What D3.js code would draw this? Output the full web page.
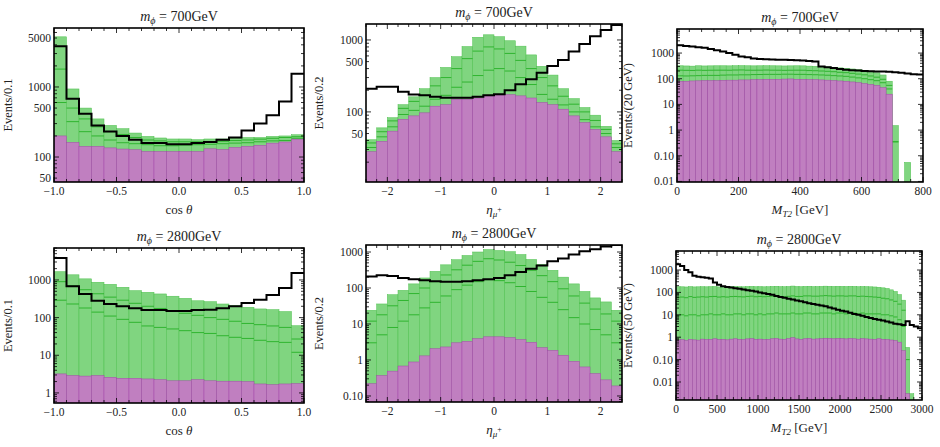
<!DOCTYPE html>
<html><head><meta charset="utf-8">
<script src="https://cdn.jsdelivr.net/npm/d3@7"></script>
<style>
body{margin:0;background:#fff;}
text{font-family:"Liberation Serif","DejaVu Serif",serif;fill:#222;}
</style></head>
<body><svg id="chart" width="940" height="447"></svg>
<script>
// ---- data ----
// cos theta, m = 700 GeV, 20 bins of 0.1
var cos700Purple = [200,162,142,142,135,130,127,120,120,120,120,120,131,128,137,142,147,158,164,180];
var cos700Low    = [600,320,230,200,175,160,155,150,145,145,148,150,152,155,158,160,165,170,172,185];
var cos700High   = [1800,500,350,270,230,210,190,175,170,165,165,165,165,168,172,175,180,185,190,195];
var cos700Total  = [5200,937,500,350,283,254,220,197,187,181,181,177,181,181,187,190,190,197,200,208];
var cos700Black  = [3800,680,415,283,232,200,177,158,158,152,152,158,164,177,190,240,300,394,620,1550];

// eta mu+, m = 700 GeV, 24 bins of 0.2
var eta700Purple = [28,39,54,79,88,97,120,126,150,150,156,167,172,174,167,156,135,126,109,88,71,57,45,28];
var eta700Low    = [32,45,62,92,105,120,150,170,220,260,320,380,400,370,300,240,175,150,125,100,78,62,50,32];
var eta700High   = [37,53,75,112,140,170,230,300,400,550,700,800,750,650,520,400,300,230,165,128,100,76,57,36];
var eta700Total  = [41,60,83,126,162,210,300,415,585,810,1090,1180,1110,975,820,620,430,325,210,153,115,90,63,40];
var eta700Black  = [210,223,223,190,175,170,162,157,157,157,162,170,176,200,243,285,350,435,525,690,880,1130,1380,1620];

// MT2, m = 700 GeV, 40 bins of 20 GeV
var mt700Purple = [80,80,82,83,85,85,85,87,88,88,90,90,92,93,95,95,95,97,98,95,95,93,92,90,88,85,82,80,75,70,65,60,55,45,25,0,0,0,0,0];
var mt700Low    = [130,128,130,132,135,135,135,138,140,140,142,142,145,146,148,148,148,150,150,148,148,145,143,140,137,132,128,124,116,108,100,92,84,70,40,0.35,0,0,0,0];
var mt700High   = [215,212,210,215,212,214,215,215,214,218,220,215,214,215,218,215,214,212,214,215,214,208,205,200,195,188,178,172,162,152,142,128,115,95,55,0.35,0,0,0,0];
var mt700Total  = [320,315,310,320,315,318,320,320,318,322,325,320,318,320,322,320,318,315,318,320,318,310,305,300,290,280,265,255,240,225,210,190,170,140,80,1.5,0,0.055,0,0];
var mt700Black  = [2000,1900,1800,1700,1600,1450,1300,1150,1000,850,740,680,620,590,570,560,550,550,540,530,510,490,470,300,280,260,240,225,215,210,200,195,190,190,185,180,170,160,150,145];

// cos theta, m = 2800 GeV
var cos2800Purple = [3.2,2.9,2.8,2.9,2.6,2.45,2.45,2.35,2.25,2.1,2.1,2.25,2.1,2.05,2.05,2.0,1.73,1.66,1.73,1.77];
var cos2800Low    = [290,230,180,140,110,90,75,60,55,50,45,40,38,33,30,28,25,23,22,12];
var cos2800High   = [900,700,550,430,350,290,240,200,175,150,130,115,100,90,80,70,65,60,55,27];
var cos2800Total  = [1660,1370,1070,870,765,640,520,470,425,370,325,280,265,230,208,188,170,163,145,61];
var cos2800Black  = [3850,680,425,280,230,200,177,160,160,150,150,160,163,177,200,245,300,400,610,1530];

// eta mu+, m = 2800 GeV
var eta2800Purple = [0.22,0.37,0.49,0.68,0.88,1.3,2.06,2.3,3.0,3.3,3.9,4.4,4.4,4.2,3.7,3.1,2.2,1.85,1.35,0.92,0.64,0.42,0.28,0.19];
var eta2800Low    = [3,5,8,12,18,28,40,60,90,120,150,170,160,140,110,80,55,40,25,15,10,7,5,3];
var eta2800High   = [12,18,32,45,70,100,150,230,320,430,550,650,600,520,420,310,220,150,95,60,38,26,19,12];
var eta2800Total  = [24,36,65,86,130,190,290,440,610,800,1000,1170,1100,1020,850,620,450,310,200,130,80,53,41,24];
var eta2800Black  = [210,225,215,190,175,165,155,148,148,155,165,175,190,225,280,340,420,550,660,850,1050,1200,1430,1570];

// MT2, m = 2800 GeV, 60 bins of 50 GeV
var mt2800Purple = [0.75,0.78,0.72,0.8,0.76,0.74,0.82,0.78,0.8,0.85,0.78,0.8,0.76,0.82,0.85,0.8,0.78,0.84,0.86,0.8,
                    0.82,0.78,0.8,0.85,0.88,0.82,0.8,0.86,0.95,0.84,0.8,0.85,0.88,0.82,0.84,0.86,0.9,0.88,0.85,0.88,
                    0.86,0.84,0.88,0.85,0.82,0.86,0.84,0.82,0.8,0.85,0.8,0.78,0.75,0.7,0.6,0.25,0.003,0,0,0];
var mt2800Low    = [9,10,9,10,10,9,10,10,11,10,10,11,10,10,11,11,10,11,11,10,11,10,11,11,12,11,11,11,12,11,11,12,12,11,11,12,12,12,11,12,
                    12,11,12,12,11,12,11,11,11,11,10,10,9,8,6,3,0,0,0,0];
var mt2800High   = [60,62,58,65,60,62,64,62,65,66,62,64,62,65,66,64,63,66,68,64,66,64,66,68,70,66,65,67,70,66,66,70,70,68,68,70,72,70,68,70,
                    70,68,70,70,66,68,66,64,62,60,55,52,46,40,30,16,0.1,0,0,0];
var mt2800Total  = [180,178,175,182,176,178,180,178,182,185,176,180,178,182,185,180,178,184,186,180,182,178,180,185,188,182,180,184,192,184,
                    180,185,188,182,184,186,190,188,185,188,186,184,188,185,180,184,182,178,175,170,160,150,130,110,80,45,0.35,0.003,0,0];
var mt2800Black  = [1800,1500,1000,800,550,500,470,450,420,280,220,190,175,165,155,145,135,125,118,110,100,92,85,78,70,62,57,52,48,43,
                    40,36,33,30,28,26,24,21,19,17,15,14,12.5,11,10,9,8,7.2,6.5,6,5.5,5,4.5,4,3.8,3.5,5.2,3.5,3.0,2.5];

var cosTicks = [-1.0,-0.5,0.0,0.5,1.0];
var etaTicks = [-2,-1,0,1,2];
var mt700Ticks = [0,200,400,600,800];
var mt2800Ticks = [0,500,1000,1500,2000,2500,3000];

// ---- layout ----
var panels = [
  {title:"700", x0:54, x1:304, y0:28, y1:182, xd:[-1,1], yd:[44,6950], w:0.1, start:-1,
   purple:cos700Purple, layers:[cos700Low,cos700High], total:cos700Total, black:cos700Black,
   xt:cosTicks, xf:d3.format(".1f"), yt:[50,100,500,1000,5000], xlab:"cosθ", ylab:"Events/0.1", lx:12},
  {title:"700", x0:366, x1:622, y0:24, y1:182, xd:[-2.4,2.4], yd:[10.6,1667], w:0.2, start:-2.4,
   purple:eta700Purple, layers:[eta700Low,eta700High], total:eta700Total, black:eta700Black,
   xt:etaTicks, xf:d3.format("d"), yt:[50,100,500,1000], xlab:"eta", ylab:"Events/0.2", lx:323},
  {title:"700", x0:677, x1:923, y0:29, y1:182, xd:[0,800], yd:[0.0095,8650], w:20, start:0,
   purple:mt700Purple, layers:[mt700Low,mt700High], total:mt700Total, black:mt700Black,
   xt:mt700Ticks, xf:d3.format("d"), yt:[0.01,0.1,1,10,100,1000], xlab:"mt2", ylab:"Events/(20 GeV)", lx:632},
  {title:"2800", x0:54, x1:304, y0:248, y1:403, xd:[-1,1], yd:[0.54,7060], w:0.1, start:-1,
   purple:cos2800Purple, layers:[cos2800Low,cos2800High], total:cos2800Total, black:cos2800Black,
   xt:cosTicks, xf:d3.format(".1f"), yt:[1,10,100,1000], xlab:"cosθ", ylab:"Events/0.1", lx:12},
  {title:"2800", x0:366, x1:622, y0:245, y1:402, xd:[-2.4,2.4], yd:[0.068,1565], w:0.2, start:-2.4,
   purple:eta2800Purple, layers:[eta2800Low,eta2800High], total:eta2800Total, black:eta2800Black,
   xt:etaTicks, xf:d3.format("d"), yt:[0.1,1,10,100,1000], xlab:"eta", ylab:"Events/0.2", lx:323},
  {title:"2800", x0:676, x1:922, y0:251, y1:400, xd:[0,3000], yd:[0.00157,7060], w:50, start:0,
   purple:mt2800Purple, layers:[mt2800Low,mt2800High], total:mt2800Total, black:mt2800Black,
   xt:mt2800Ticks, xf:d3.format("d"), yt:[0.01,0.1,1,10,100,1000], xlab:"mt2", ylab:"Events/(50 GeV)", lx:632}
];

var svg = d3.select("#chart");
var yFmt = function (v) { return v === 0.1 ? "0.10" : v < 1 ? String(v) : d3.format("d")(v); };

panels.forEach(function (p, pi) {
  var x = d3.scaleLinear().domain(p.xd).range([p.x0, p.x1]);
  var y = d3.scaleLog().domain(p.yd).range([p.y1, p.y0]).clamp(true);
  var id = "clip" + pi;
  svg.append("clipPath").attr("id", id).append("rect")
     .attr("x", p.x0).attr("y", p.y0).attr("width", p.x1 - p.x0).attr("height", p.y1 - p.y0);
  var g = svg.append("g").attr("clip-path", "url(#" + id + ")");
  var bins = p.total.map(function (v, i) { return i; });
  var bx = function (i) { return x(p.start + i * p.w); };
  var bw = function (i) { return bx(i + 1) - bx(i); };

  // green stack
  g.selectAll(".g").data(bins.filter(function (i) { return p.total[i] > 0; })).enter().append("rect")
    .attr("x", bx).attr("width", bw)
    .attr("y", function (i) { return y(p.total[i]); })
    .attr("height", function (i) { return p.y1 - y(p.total[i]); })
    .attr("fill", "#80d580").attr("stroke", "#4cc04c").attr("stroke-width", 0.5);
  // layer lines inside the green
  p.layers.forEach(function (arr) {
    g.selectAll(null).data(bins.filter(function (i) { return arr[i] > 0; })).enter().append("line")
      .attr("x1", bx).attr("x2", function (i) { return bx(i) + bw(i); })
      .attr("y1", function (i) { return y(arr[i]); }).attr("y2", function (i) { return y(arr[i]); })
      .attr("stroke", "#2fb52f").attr("stroke-width", 1);
  });
  // purple
  g.selectAll(".p").data(bins.filter(function (i) { return p.purple[i] > 0; })).enter().append("rect")
    .attr("x", bx).attr("width", bw)
    .attr("y", function (i) { return y(p.purple[i]); })
    .attr("height", function (i) { return p.y1 - y(p.purple[i]); })
    .attr("fill", "#c07fc0").attr("stroke", "#a448aa").attr("stroke-width", 0.5);
  // black step line
  var pts = [];
  p.black.forEach(function (v, i) { pts.push([bx(i), y(v)], [bx(i + 1), y(v)]); });
  g.append("path").attr("d", d3.line()(pts)).attr("fill", "none")
    .attr("stroke", "#000").attr("stroke-width", 2);

  // frame and ticks
  var minorX = d3.range(p.xd[0], p.xd[1] + 1e-9, (p.xt[1] - p.xt[0]) / 5);
  var minorY = [];
  d3.range(-3, 5).forEach(function (e) {
    for (var k = 1; k < 10; k++) { var v = k * Math.pow(10, e); if (v >= p.yd[0] && v <= p.yd[1]) minorY.push(v); }
  });
  var tk = svg.append("g").attr("stroke", "#000").attr("stroke-width", 0.8);
  minorX.forEach(function (v) {
    var major = p.xt.some(function (t) { return Math.abs(t - v) < 1e-6; });
    var L = major ? 5 : 3;
    tk.append("line").attr("x1", x(v)).attr("x2", x(v)).attr("y1", p.y1).attr("y2", p.y1 - L);
    tk.append("line").attr("x1", x(v)).attr("x2", x(v)).attr("y1", p.y0).attr("y2", p.y0 + L);
  });
  minorY.forEach(function (v) {
    var L = Math.abs(Math.log10(v) - Math.round(Math.log10(v))) < 1e-6 ? 5 : 3;
    tk.append("line").attr("x1", p.x0).attr("x2", p.x0 + L).attr("y1", y(v)).attr("y2", y(v));
    tk.append("line").attr("x1", p.x1).attr("x2", p.x1 - L).attr("y1", y(v)).attr("y2", y(v));
  });
  svg.append("rect").attr("x", p.x0).attr("y", p.y0).attr("width", p.x1 - p.x0).attr("height", p.y1 - p.y0)
    .attr("fill", "none").attr("stroke", "#000").attr("stroke-width", 1.6);

  svg.append("g").selectAll("text").data(p.xt).enter().append("text")
    .attr("x", function (d) { return x(d); }).attr("y", p.y1 + 13).attr("text-anchor", "middle")
    .attr("font-size", 11.5).text(function (d) { return d < 0 ? "\u2212" + p.xf(-d) : p.xf(d); });
  svg.append("g").selectAll("text").data(p.yt).enter().append("text")
    .attr("x", p.x0 - 3).attr("y", function (d) { return y(d) + 4; }).attr("text-anchor", "end")
    .attr("font-size", 11.5).text(yFmt);

  // titles and axis labels
  var t = svg.append("text").attr("x", (p.x0 + p.x1) / 2).attr("y", p.y0 - 7)
    .attr("text-anchor", "middle").attr("font-size", 14);
  t.append("tspan").attr("font-style", "italic").text("m");
  t.append("tspan").attr("font-style", "italic").attr("font-size", 10).attr("dy", 3).text("ϕ");
  t.append("tspan").attr("dy", -3).text(" = " + p.title + "GeV");

  var xl = svg.append("text").attr("x", (p.x0 + p.x1) / 2).attr("y", p.y1 + 32)
    .attr("text-anchor", "middle").attr("font-size", 13);
  if (p.xlab === "cosθ") {
    xl.append("tspan").text("cos ");
    xl.append("tspan").attr("font-style", "italic").text("θ");
  } else if (p.xlab === "eta") {
    xl.append("tspan").attr("font-style", "italic").text("η");
    xl.append("tspan").attr("font-style", "italic").attr("font-size", 9).attr("dy", 3).text("μ");
    xl.append("tspan").attr("font-size", 8).attr("dy", -5).text("+");
  } else {
    xl.append("tspan").attr("font-style", "italic").text("M");
    xl.append("tspan").attr("font-style", "italic").attr("font-size", 9).attr("dy", 3).text("T2");
    xl.append("tspan").attr("dy", -3).text(" [GeV]");
  }
  svg.append("text").attr("transform", "translate(" + p.lx + "," + (p.y0 + p.y1) / 2 + ") rotate(-90)")
    .attr("text-anchor", "middle").attr("font-size", 12.5).text(p.ylab);
});
</script>
</body></html>
